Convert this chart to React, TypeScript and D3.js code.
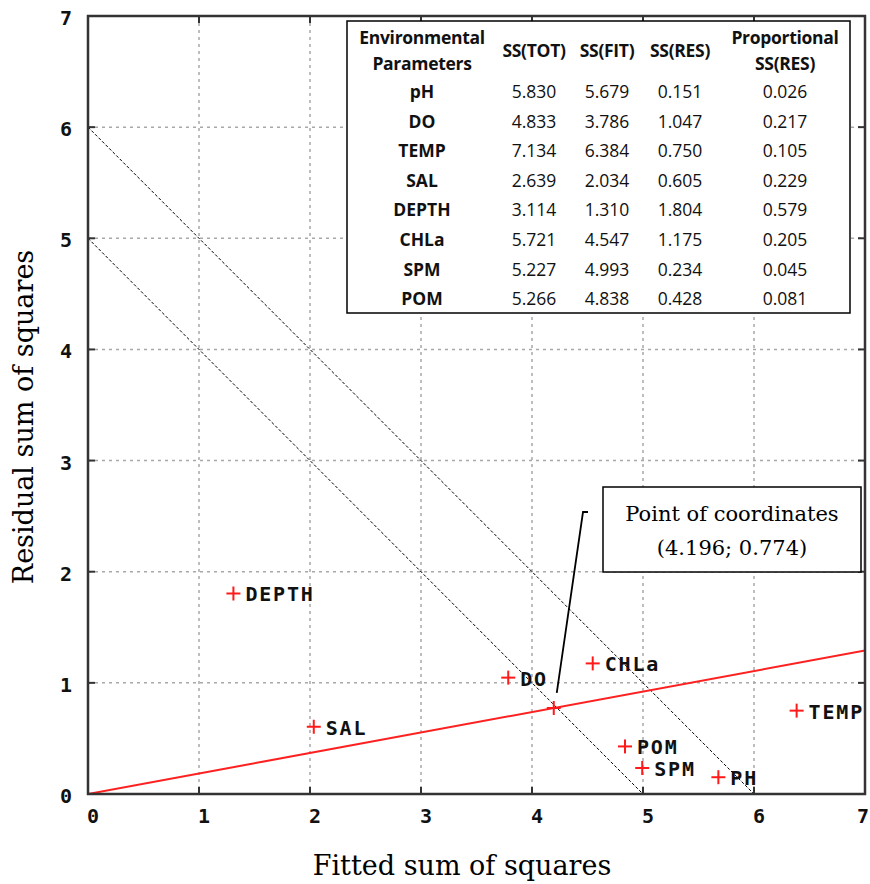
import * as d3 from "d3";
import { useRef, useEffect } from "react";

// table / point data
const params = ["pH", "DO", "TEMP", "SAL", "DEPTH", "CHLa", "SPM", "POM"];
const pointLabels = ["PH", "DO", "TEMP", "SAL", "DEPTH", "CHLa", "SPM", "POM"];
const ssTot = [5.83, 4.833, 7.134, 2.639, 3.114, 5.721, 5.227, 5.266];
const ssFit = [5.679, 3.786, 6.384, 2.034, 1.31, 4.547, 4.993, 4.838];
const ssRes = [0.151, 1.047, 0.75, 0.605, 1.804, 1.175, 0.234, 0.428];
const propRes = [0.026, 0.217, 0.105, 0.229, 0.579, 0.205, 0.045, 0.081];

const centroid = [4.196, 0.774];
const diagLevels = [5, 6];
const xTicks = [0, 1, 2, 3, 4, 5, 6, 7];
const yTicks = [0, 1, 2, 3, 4, 5, 6, 7];

const tableHeaders = [
  ["Environmental", "Parameters"],
  ["SS(TOT)"],
  ["SS(FIT)"],
  ["SS(RES)"],
  ["Proportional", "SS(RES)"],
];

const width = 870;
const height = 884;
const marginLeft = 88;
const marginRight = 5;
const marginTop = 16;
const marginBottom = 90;

const monoFont = "'DejaVu Sans Mono', monospace";
const serifFont = "'DejaVu Serif', serif";
const tableFont = "'Open Sans', 'Liberation Sans', sans-serif";

export default function App() {
  const svgRef = useRef<SVGSVGElement>(null);

  useEffect(() => {
    const svg = d3.select(svgRef.current);
    svg.selectAll("*").remove();

    const x = d3
      .scaleLinear()
      .domain([0, 7])
      .range([marginLeft, width - marginRight]);
    const y = d3
      .scaleLinear()
      .domain([0, 7])
      .range([height - marginBottom, marginTop]);

    const x0 = x(0), x1 = x(7), y0 = y(0), y1 = y(7);

    svg
      .append("defs")
      .append("clipPath")
      .attr("id", "plot-clip")
      .append("rect")
      .attr("x", x0)
      .attr("y", y1)
      .attr("width", x1 - x0)
      .attr("height", y0 - y1);

    // grid
    const grid = svg.append("g");
    grid
      .selectAll(".xg")
      .data(xTicks.slice(1, -1))
      .join("line")
      .attr("x1", (d) => x(d))
      .attr("x2", (d) => x(d))
      .attr("y1", y1)
      .attr("y2", y0)
      .attr("stroke", "#a8a8a8")
      .attr("stroke-width", 1.5)
      .attr("stroke-dasharray", "3,4");
    grid
      .selectAll(".yg")
      .data(yTicks.slice(1, -1))
      .join("line")
      .attr("x1", x0)
      .attr("x2", x1)
      .attr("y1", (d) => y(d))
      .attr("y2", (d) => y(d))
      .attr("stroke", "#a8a8a8")
      .attr("stroke-width", 1.5)
      .attr("stroke-dasharray", "3,4");

    const plot = svg.append("g").attr("clip-path", "url(#plot-clip)");

    // diagonal reference lines x + y = c
    plot
      .selectAll(".diag")
      .data(diagLevels)
      .join("line")
      .attr("x1", x(0))
      .attr("y1", (d) => y(d))
      .attr("x2", (d) => x(d))
      .attr("y2", y(0))
      .attr("stroke", "#000")
      .attr("stroke-width", 1)
      .attr("stroke-dasharray", "3,2");

    // red line through origin and centroid
    const slope = centroid[1] / centroid[0];
    plot
      .append("line")
      .attr("x1", x(0))
      .attr("y1", y(0))
      .attr("x2", x(7))
      .attr("y2", y(7 * slope))
      .attr("stroke", "#ff2020")
      .attr("stroke-width", 2);

    // axes frame
    svg
      .append("rect")
      .attr("x", x0)
      .attr("y", y1)
      .attr("width", x1 - x0)
      .attr("height", y0 - y1)
      .attr("fill", "none")
      .attr("stroke", "#333")
      .attr("stroke-width", 2.5);

    // inward tick marks on all sides
    const ticks = svg.append("g").attr("stroke", "#333").attr("stroke-width", 2);
    xTicks.forEach((t) => {
      ticks.append("line").attr("x1", x(t)).attr("x2", x(t)).attr("y1", y0).attr("y2", y0 - 7);
      ticks.append("line").attr("x1", x(t)).attr("x2", x(t)).attr("y1", y1).attr("y2", y1 + 7);
    });
    yTicks.forEach((t) => {
      ticks.append("line").attr("x1", x0).attr("x2", x0 + 7).attr("y1", y(t)).attr("y2", y(t));
      ticks.append("line").attr("x1", x1).attr("x2", x1 - 7).attr("y1", y(t)).attr("y2", y(t));
    });

    // tick labels
    svg
      .append("g")
      .selectAll("text")
      .data(xTicks)
      .join("text")
      .attr("x", (d) => Math.min(x(d) + 5, width - 7))
      .attr("y", y0 + 29)
      .attr("text-anchor", "middle")
      .attr("font-family", monoFont)
      .attr("font-weight", "bold")
      .attr("font-size", 20)
      .attr("fill", "#111")
      .text((d) => d);
    svg
      .append("g")
      .selectAll("text")
      .data(yTicks)
      .join("text")
      .attr("x", x0 - 16)
      .attr("y", (d) => y(d) + 9)
      .attr("text-anchor", "end")
      .attr("font-family", monoFont)
      .attr("font-weight", "bold")
      .attr("font-size", 20)
      .attr("fill", "#111")
      .text((d) => d);

    // axis titles
    svg
      .append("text")
      .attr("x", 462)
      .attr("y", 875)
      .attr("text-anchor", "middle")
      .attr("font-family", serifFont)
      .attr("font-size", 27)
      .text("Fitted sum of squares");
    svg
      .append("text")
      .attr("transform", `translate(33,417) rotate(-90)`)
      .attr("text-anchor", "middle")
      .attr("font-family", serifFont)
      .attr("font-size", 27)
      .text("Residual sum of squares");

    // points
    const pts = params.map((p, i) => ({ label: pointLabels[i], fx: ssFit[i], rx: ssRes[i] }));
    const cross = (g, cx, cy) => {
      g.append("line").attr("x1", cx - 7).attr("x2", cx + 7).attr("y1", cy).attr("y2", cy);
      g.append("line").attr("x1", cx).attr("x2", cx).attr("y1", cy - 7).attr("y2", cy + 7);
    };
    const marks = svg.append("g").attr("stroke", "#ff1a1a").attr("stroke-width", 2);
    pts.forEach((p) => cross(marks, x(p.fx), y(p.rx)));
    cross(marks, x(centroid[0]), y(centroid[1]));

    svg
      .append("g")
      .selectAll("text")
      .data(pts)
      .join("text")
      .attr("x", (d) => x(d.fx) + 12)
      .attr("y", (d) => y(d.rx) + 8)
      .attr("font-family", monoFont)
      .attr("font-weight", "bold")
      .attr("font-size", 20)
      .attr("letter-spacing", 1.8)
      .attr("fill", "#111")
      .text((d) => d.label);

    // callout
    const bx = 603, by = 487, bw = 258, bh = 85;
    svg
      .append("polyline")
      .attr("points", [
        [bx - 15, by + 25],
        [bx - 20, by + 25],
        [x(centroid[0]) + 3, y(centroid[1]) - 15],
      ].map((p) => p.join(",")).join(" "))
      .attr("fill", "none")
      .attr("stroke", "#000")
      .attr("stroke-width", 1.8);
    svg
      .append("rect")
      .attr("x", bx)
      .attr("y", by)
      .attr("width", bw)
      .attr("height", bh)
      .attr("fill", "#fff")
      .attr("stroke", "#000")
      .attr("stroke-width", 1.5);
    const callout = svg
      .append("text")
      .attr("font-family", serifFont)
      .attr("font-size", 21)
      .attr("text-anchor", "middle");
    callout.append("tspan").attr("x", bx + bw / 2).attr("y", by + 34).text("Point of coordinates");
    callout
      .append("tspan")
      .attr("x", bx + bw / 2)
      .attr("y", by + 68)
      .text(`(${d3.format(".3f")(centroid[0])}; ${d3.format(".3f")(centroid[1])})`);

    // table
    const tx = 347, ty = 21, tw = 503, th = 292;
    svg
      .append("rect")
      .attr("x", tx)
      .attr("y", ty)
      .attr("width", tw)
      .attr("height", th)
      .attr("fill", "#fff")
      .attr("stroke", "#000")
      .attr("stroke-width", 1.5);
    const colX = [422, 534, 607, 680, 785];
    const table = svg
      .append("g")
      .attr("font-family", tableFont)
      .attr("font-size", 17.5)
      .attr("text-anchor", "middle")
      .attr("fill", "#111");
    tableHeaders.forEach((lines, c) => {
      lines.forEach((s, k) => {
        const yy = lines.length === 1 ? 57 : 44 + k * 26;
        table
          .append("text")
          .attr("x", colX[c])
          .attr("y", yy)
          .attr("font-weight", "bold")
          .attr("letter-spacing", -0.3)
          .text(s);
      });
    });
    const fmt = d3.format(".3f");
    params.forEach((p, i) => {
      const yy = 98 + i * 29.6;
      table.append("text").attr("x", colX[0]).attr("y", yy).attr("font-weight", "bold").text(p);
      [ssTot[i], ssFit[i], ssRes[i], propRes[i]].forEach((v, c) => {
        table.append("text").attr("x", colX[c + 1]).attr("y", yy).text(fmt(v));
      });
    });
  }, []);

  return (
    <svg
      ref={svgRef}
      width={width}
      height={height}
      style={{ position: "absolute", left: 0, top: 0, background: "#fff" }}
    />
  );
}
